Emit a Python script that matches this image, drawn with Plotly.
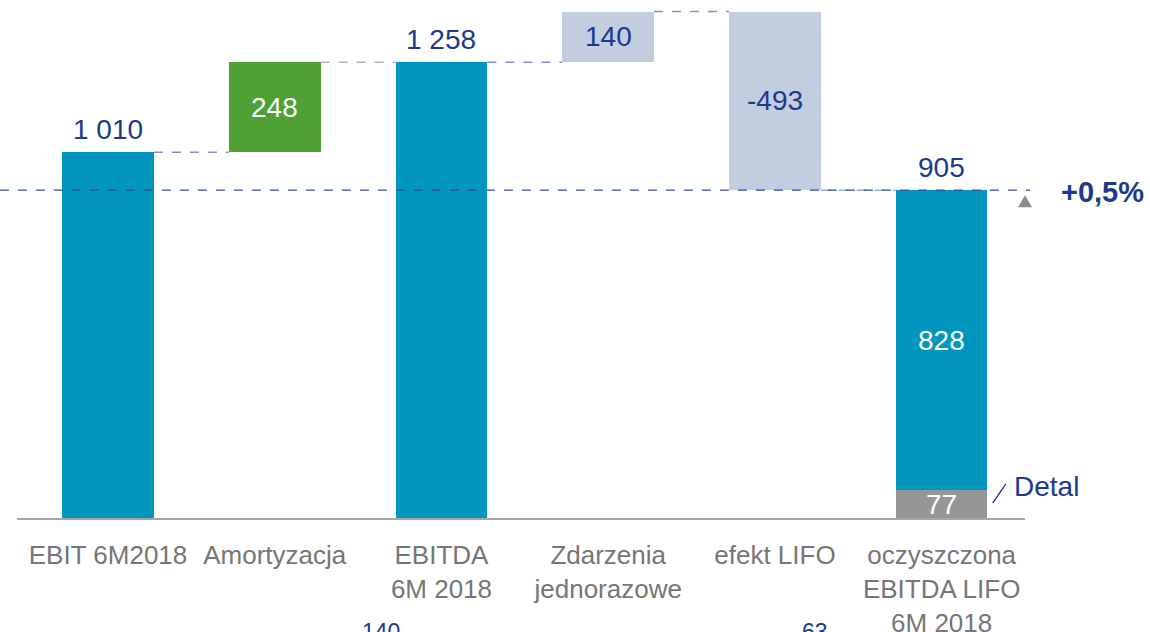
import plotly.graph_objects as go

# Waterfall: EBIT -> clean EBITDA LIFO, 6M 2018 (PLN m)
categories = ["EBIT 6M2018", "Amortyzacja", "EBITDA<br>6M 2018",
              "Zdarzenia<br>jednorazowe", "efekt LIFO",
              "oczyszczona<br>EBITDA LIFO<br>6M 2018"]
ebit = 1010
amortyzacja = 248
zdarzenia = 140
efekt_lifo = -493
segment_hurt = 828
segment_detal = 77
growth_label = "+0,5%"
below_values = [140, 63]
below_positions = [1.64, 4.24]

ebitda = ebit + amortyzacja
final_total = segment_hurt + segment_detal

Y_MAX = 1430
BAR_W = 0.55

TEAL = "#0096BE"
GREEN = "#4EA132"
PALE = "#C3CDE0"
GREY = "#969696"
NAVY = "#1B3A8C"
LABEL_GREY = "#767676"
FONT = "Liberation Sans, Arial, sans-serif"


def fmt(v):
    s = f"{abs(v):,}".replace(",", " ")
    return ("-" if v < 0 else "") + s


x = list(range(len(categories)))

# floating bar geometry (base, height)
bars = [
    (0, ebit, TEAL),
    (ebit, amortyzacja, GREEN),
    (0, ebitda, TEAL),
    (ebitda, zdarzenia, PALE),
    (ebitda + zdarzenia + efekt_lifo, -efekt_lifo, PALE),
]

fig = go.Figure()
for i, (b, h, c) in enumerate(bars):
    fig.add_trace(go.Bar(x=[x[i]], y=[h], base=[b], width=BAR_W,
                         marker=dict(color=c, line_width=0),
                         hoverinfo="skip", showlegend=False))
# stacked final bar
fig.add_trace(go.Bar(x=[x[5]], y=[segment_detal], base=[0], width=BAR_W,
                     marker=dict(color=GREY, line_width=0),
                     hoverinfo="skip", showlegend=False))
fig.add_trace(go.Bar(x=[x[5]], y=[segment_hurt], base=[segment_detal], width=BAR_W,
                     marker=dict(color=TEAL, line_width=0),
                     hoverinfo="skip", showlegend=False))

ann = []


def label(xv, yv, text, color, anchor="middle", size=28, shift=0):
    ann.append(dict(x=xv, y=yv, xref="x", yref="y", text=text, showarrow=False,
                    xanchor="center", yanchor=anchor, yshift=shift,
                    font=dict(family=FONT, size=size, color=color)))


# totals above bars
label(x[0], ebit, fmt(ebit), NAVY, "bottom", shift=5)
label(x[2], ebitda, fmt(ebitda), NAVY, "bottom", shift=5)
label(x[5], final_total, fmt(final_total), NAVY, "bottom", shift=5)
# values inside bars
label(x[1], ebit + amortyzacja / 2, fmt(amortyzacja), "white")
label(x[3], ebitda + zdarzenia / 2, fmt(zdarzenia), NAVY)
label(x[4], ebitda + zdarzenia + efekt_lifo / 2, fmt(efekt_lifo), NAVY)
label(x[5], segment_detal + segment_hurt / 2, fmt(segment_hurt), "white")
label(x[5], segment_detal / 2, fmt(segment_detal), "white", shift=0)

# growth marker on the right
ann.append(dict(x=1.077, y=final_total / Y_MAX, xref="paper", yref="paper",
                text=f"<b>{growth_label}</b>", showarrow=False,
                xanchor="center", yanchor="middle",
                yshift=-2, font=dict(family=FONT, size=29, color=NAVY)))
# segment caption
ann.append(dict(x=1.021, y=88 / Y_MAX, xref="paper", yref="paper", text="Detal",
                showarrow=False, xanchor="center", yanchor="middle",
                font=dict(family=FONT, size=28, color=NAVY)))
# figures from the row below
for xv, v in zip(below_positions, below_values):
    ann.append(dict(x=xv, y=-0.192, xref="x", yref="paper", text=fmt(v),
                    showarrow=False, xanchor="center", yanchor="top",
                    font=dict(family=FONT, size=23, color=NAVY)))

shapes = []
# connectors between bars
levels = [ebit, ebitda, ebitda, ebitda + zdarzenia, final_total]
conn_colors = ["#7F93C6", "#B4B4B4", "#7F93C6", "#7F93C6", "#9FAAC8"]
for i, (lv, cc) in enumerate(zip(levels, conn_colors)):
    shapes.append(dict(type="line", xref="x", yref="y",
                       x0=x[i] + BAR_W / 2, x1=x[i + 1] - BAR_W / 2, y0=lv, y1=lv,
                       line=dict(color=cc, width=1.5, dash="dash")))
# reference line at the final level
shapes.append(dict(type="line", xref="paper", yref="paper", x0=-0.017, x1=1.005,
                   y0=final_total / Y_MAX, y1=final_total / Y_MAX,
                   line=dict(color="#2F4E9E", width=1.3, dash="dash"), layer="above"))
# small triangle
shapes.append(dict(type="path", xref="paper", yref="paper",
                   xsizemode="pixel", ysizemode="pixel", xanchor=1.0,
                   yanchor=final_total / Y_MAX,
                   path="M -7,-17 L 7,-17 L 0,-5 Z",
                   fillcolor="#8C8C8C", line=dict(width=0)))
# pointer to the Detal segment
shapes.append(dict(type="line", xref="paper", yref="paper",
                   x0=0.968, x1=0.981, y0=41 / Y_MAX, y1=94 / Y_MAX,
                   line=dict(color=NAVY, width=1.3)))

fig.update_layout(
    width=1150, height=632,
    margin=dict(l=17, r=125, t=0, b=114),
    paper_bgcolor="white", plot_bgcolor="white",
    barmode="overlay", bargap=0,
    annotations=ann, shapes=shapes,
    xaxis=dict(range=[-0.546, 5.5], tickvals=x, ticktext=categories,
               showgrid=False, zeroline=False, showline=True,
               linecolor="#A6A6A6", linewidth=2, ticks="",
               ticklabelstandoff=13, automargin=False,
               tickfont=dict(family=FONT, size=26, color=LABEL_GREY)),
    yaxis=dict(range=[0, Y_MAX], visible=False, showgrid=False, zeroline=False,
               automargin=False),
)

fig.write_html("out.html")
